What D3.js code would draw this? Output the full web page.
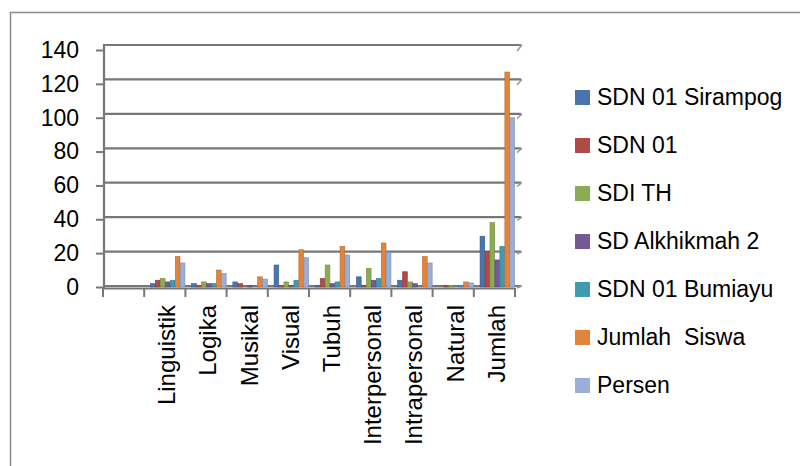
<!DOCTYPE html>
<html>
<head>
<meta charset="utf-8">
<script src="https://cdn.jsdelivr.net/npm/d3@7"></script>
<style>
  html, body { margin: 0; padding: 0; background: #fff; }
  svg { display: block; font-family: "Liberation Sans", Arial, sans-serif; }
</style>
</head>
<body>
<svg id="chart" width="800" height="466"></svg>
<script>
// Kecerdasan majemuk per sekolah
const categories = ["", "Linguistik", "Logika", "Musikal", "Visual", "Tubuh", "Interpersonal", "Intrapersonal", "Natural", "Jumlah"];
const seriesNames = ["SDN 01 Sirampog", "SDN 01", "SDI TH", "SD Alkhikmah 2", "SDN 01 Bumiayu", "Jumlah  Siswa", "Persen"];
const sdn01Sirampog = [0, 2, 2, 3, 13, 1, 6, 4, 0, 30];
const sdn01 = [0, 4, 1, 2, 1, 5, 1, 9, 1, 21];
const sdiTH = [0, 5, 3, 0, 3, 13, 11, 3, 1, 38];
const sdAlkhikmah2 = [0, 3, 2, 1, 1, 2, 4, 2, 0, 16];
const sdn01Bumiayu = [0, 4, 2, 0, 4, 3, 5, 0, 1, 24];
const jumlahSiswa = [0, 18, 10, 6, 22, 24, 26, 18, 3, 127];
const persen = [0, 14.2, 7.9, 4.7, 17.3, 18.9, 20.5, 14.2, 2.4, 100];
const yTicks = [0, 20, 40, 60, 80, 100, 120, 140];

const seriesValues = [sdn01Sirampog, sdn01, sdiTH, sdAlkhikmah2, sdn01Bumiayu, jumlahSiswa, persen];
const colors = ["#4a74ad", "#b04a46", "#8dab52", "#735a94", "#409bb1", "#e3843c", "#9aaed8"];

const svg = d3.select("#chart");
svg.append("rect").attr("width", 800).attr("height", 466).attr("fill", "#fff");

// outer chart frame
svg.append("rect")
  .attr("x", 10.5).attr("y", 12.5).attr("width", 900).attr("height", 600)
  .attr("fill", "none").attr("stroke", "#8a8a8a").attr("stroke-width", 1.5);

const x = d3.scaleBand().domain(categories).range([103, 515]).padding(0);
const y = d3.scaleLinear().domain([0, 140]).range([287, 50]);

// back-wall gridlines (slight perspective offset)
const gridOff = v => 1 + 4 * v / 140;
svg.append("g").selectAll("line").data(yTicks).join("line")
  .attr("x1", 105).attr("x2", 521)
  .attr("y1", d => y(d) - gridOff(d)).attr("y2", d => y(d) - gridOff(d))
  .attr("stroke", "#777").attr("stroke-width", 2.2);
// right wall edge ticks
svg.append("g").selectAll("line").data(yTicks).join("line")
  .attr("x1", 517).attr("x2", 522)
  .attr("y1", d => y(d) + 1).attr("y2", d => y(d) - gridOff(d))
  .attr("stroke", "#9a9a9a").attr("stroke-width", 1.5);

// value axis
const yAxis = d3.axisLeft(y).tickValues(yTicks).tickSize(8).tickPadding(17);
const gy = svg.append("g").attr("transform", "translate(104,0)").call(yAxis);
gy.select(".domain").attr("stroke", "#777").attr("stroke-width", 2.2)
  .attr("d", "M0," + (y(140) - 6) + "V" + (y(0) + 2));
gy.selectAll(".tick line").attr("stroke", "#777").attr("stroke-width", 2);
gy.selectAll(".tick text").attr("font-size", 23).attr("fill", "#000")
  .attr("font-family", "Liberation Sans, Arial, sans-serif");

// category axis
const xAxis = d3.axisBottom(x).tickSize(0).tickFormat("");
const gx = svg.append("g").attr("transform", "translate(0,288)").call(xAxis);
gx.select(".domain").attr("stroke", "#777").attr("stroke-width", 2);
const bounds = categories.map(c => x(c)).concat([x.range()[1]]);
svg.append("g").selectAll("line").data(bounds).join("line")
  .attr("x1", d => d).attr("x2", d => d)
  .attr("y1", 288).attr("y2", 297)
  .attr("stroke", "#777").attr("stroke-width", 2);

// bars
const inner = d3.scaleBand().domain(d3.range(seriesNames.length)).range([6, 41]).padding(0.05);
const barData = [];
seriesValues.forEach((vals, si) => {
  vals.forEach((v, ci) => {
    if (categories[ci] !== "" && v > 0) barData.push({ si, cat: categories[ci], v });
  });
});
svg.append("g").selectAll("rect").data(barData).join("rect")
  .attr("x", d => x(d.cat) + inner(d.si))
  .attr("width", inner.bandwidth())
  .attr("y", d => y(d.v))
  .attr("height", d => y(0) - y(d.v))
  .attr("fill", d => colors[d.si])
  .attr("stroke", d => d3.color(colors[d.si]).darker(0.6))
  .attr("stroke-width", 0.6);

// category labels
svg.append("g").selectAll("text").data(categories.filter(c => c !== "")).join("text")
  .attr("transform", d => "translate(" + (x(d) + x.bandwidth() / 2 + 2) + ",305) rotate(-90)")
  .attr("text-anchor", "end")
  .attr("dy", "0.35em")
  .attr("font-size", 24)
  .attr("fill", "#000")
  .text(d => d);

// legend
const legend = svg.append("g").attr("transform", "translate(575,90)");
const rows = legend.selectAll("g").data(seriesNames).join("g")
  .attr("transform", (d, i) => "translate(0," + i * 48 + ")");
rows.append("rect").attr("width", 15).attr("height", 15).attr("fill", (d, i) => colors[i]);
rows.append("text").attr("x", 22).attr("y", 15).attr("font-size", 23).attr("fill", "#000")
  .attr("xml:space", "preserve").style("white-space", "pre")
  .text(d => d);
</script>
</body>
</html>
